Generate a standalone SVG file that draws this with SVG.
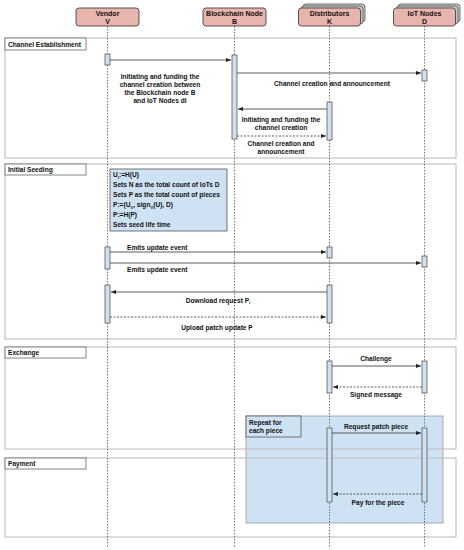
<svg xmlns="http://www.w3.org/2000/svg" width="464" height="550" viewBox="0 0 464 550">
<style>
text{font-family:"Liberation Sans",Arial,sans-serif;font-weight:bold;fill:#111}
.hdr{fill:#e8b4ae;stroke:#444;stroke-width:0.9}
.hdrb{fill:#c8c8c8;stroke:#555;stroke-width:0.8}
.ht{font-size:7px;text-anchor:middle}
.frame{fill:none;stroke:#c4c4c4;stroke-width:1.2}
.flab{fill:#fff;stroke:#666;stroke-width:0.8}
.ft{font-size:6.6px}
.life{stroke:#555;stroke-width:0.8;stroke-dasharray:1.5 1.5}
.act{fill:#cfe2f3;stroke:#444;stroke-width:0.7}
.msg{stroke:#333;stroke-width:0.8;fill:none;marker-end:url(#ah)}
.ret{stroke:#333;stroke-width:0.8;fill:none;stroke-dasharray:2 1.5;marker-end:url(#ah)}
.lt{font-size:6.6px;text-anchor:middle}
.ltl{font-size:6.6px}
.note{fill:#cfe2f3;stroke:#555;stroke-width:0.8}
.nt{font-size:6.6px}
</style>
<defs>
<marker id="ah" viewBox="0 0 6 6" refX="6" refY="3" markerWidth="5" markerHeight="5" orient="auto" markerUnits="userSpaceOnUse">
<path d="M0,0.5 L6,3 L0,5.5 z" fill="#222"/>
</marker>
</defs>
<rect width="464" height="550" fill="#fff"/>

<!-- Repeat fragment background -->
<g id="repeat">
<rect x="246" y="416" width="197" height="107" fill="#cfe2f3" stroke="#999" stroke-width="0.8"/>
<rect x="246" y="416" width="55" height="21" fill="#cfe2f3" stroke="#555" stroke-width="0.8"/>
<text class="ltl" x="249" y="425">Repeat for</text>
<text class="ltl" x="249" y="433">each piece</text>
</g>

<!-- Frames -->
<g id="frame-channel">
<rect class="frame" x="5" y="38" width="451" height="120"/>
<rect class="flab" x="5" y="38" width="81" height="12"/>
<text class="ft" x="8" y="46.5">Channel Establishment</text>
</g>
<g id="frame-seeding">
<rect class="frame" x="5" y="164" width="451" height="175"/>
<rect class="flab" x="5" y="164" width="81" height="11"/>
<text class="ft" x="8" y="172">Initial Seeding</text>
</g>
<g id="frame-exchange">
<rect class="frame" x="5" y="347" width="451" height="102"/>
<rect class="flab" x="5" y="347" width="81" height="11"/>
<text class="ft" x="8" y="355">Exchange</text>
</g>
<g id="frame-payment">
<rect class="frame" x="5" y="458" width="451" height="79"/>
<rect class="flab" x="5" y="458" width="81" height="11"/>
<text class="ft" x="8" y="466">Payment</text>
</g>

<!-- Lifelines -->
<g id="lifelines">
<line class="life" x1="107.5" y1="26" x2="107.5" y2="548"/>
<line class="life" x1="234.5" y1="26" x2="234.5" y2="548"/>
<line class="life" x1="329.5" y1="26" x2="329.5" y2="548"/>
<line class="life" x1="424.5" y1="26" x2="424.5" y2="548"/>
</g>

<!-- Headers -->
<g id="vendor">
<rect class="hdr" x="76" y="8" width="63" height="18" rx="3"/>
<text class="ht" x="107.5" y="16">Vendor</text>
<text class="ht" x="107.5" y="24">V</text>
</g>
<g id="blockchain">
<rect class="hdr" x="203" y="8" width="63" height="18" rx="3"/>
<text class="ht" x="234.5" y="16">Blockchain Node</text>
<text class="ht" x="234.5" y="24">B</text>
</g>
<g id="distributors">
<rect class="hdrb" x="303" y="4" width="62" height="18" rx="3"/>
<rect class="hdrb" x="301" y="6" width="62" height="18" rx="3"/>
<rect class="hdr" x="298.5" y="8" width="62" height="18" rx="3"/>
<text class="ht" x="329.5" y="16">Distributors</text>
<text class="ht" x="329.5" y="24">K</text>
</g>
<g id="iot">
<rect class="hdrb" x="398" y="4" width="62" height="18" rx="3"/>
<rect class="hdrb" x="396" y="6" width="62" height="18" rx="3"/>
<rect class="hdr" x="393.5" y="8" width="62" height="18" rx="3"/>
<text class="ht" x="424.5" y="16">IoT Nodes</text>
<text class="ht" x="424.5" y="24">D</text>
</g>

<!-- Note -->
<g id="note">
<rect class="note" x="110" y="169" width="117" height="62"/>
<text class="nt" x="113" y="177">U<tspan font-size="4.2" dy="1.5">I</tspan><tspan dy="-1.5">:=H(U)</tspan></text>
<text class="nt" x="113" y="187">Sets N as the total count of IoTs D</text>
<text class="nt" x="113" y="197">Sets P as the total count of pieces</text>
<text class="nt" x="113" y="207">P:=(U<tspan font-size="4.2" dy="1.5">V</tspan><tspan dy="-1.5">, sign</tspan><tspan font-size="4.2" dy="1.5">V</tspan><tspan dy="-1.5">(U), D)</tspan></text>
<text class="nt" x="113" y="217">P:=H(P)</text>
<text class="nt" x="113" y="227">Sets seed life time</text>
</g>

<!-- Activations -->
<g id="activations">
<rect class="act" x="105" y="54" width="5" height="11"/>
<rect class="act" x="232" y="55" width="5" height="84"/>
<rect class="act" x="422" y="70" width="5" height="11"/>
<rect class="act" x="327" y="102" width="5" height="38"/>
<rect class="act" x="105" y="247" width="5" height="22"/>
<rect class="act" x="327" y="247" width="5" height="11"/>
<rect class="act" x="422" y="256" width="5" height="11"/>
<rect class="act" x="105" y="285" width="5" height="38"/>
<rect class="act" x="327" y="285" width="5" height="38"/>
<rect class="act" x="327" y="361" width="5" height="32"/>
<rect class="act" x="422" y="361" width="5" height="32"/>
<rect class="act" x="327" y="428" width="5" height="74"/>
<rect class="act" x="422" y="428" width="5" height="74"/>
</g>

<!-- Connectors -->
<g id="connectors">
<line class="msg" x1="110" y1="60" x2="231" y2="60"/>
<line class="msg" x1="237" y1="73" x2="421" y2="73"/>
<line class="msg" x1="327" y1="109" x2="238" y2="109"/>
<line class="ret" x1="237" y1="136" x2="326" y2="136"/>
<line class="msg" x1="110" y1="252" x2="326" y2="252"/>
<line class="msg" x1="110" y1="263" x2="421" y2="263"/>
<line class="msg" x1="327" y1="292" x2="111" y2="292"/>
<line class="ret" x1="110" y1="317" x2="326" y2="317"/>
<line class="msg" x1="332" y1="366" x2="421" y2="366"/>
<line class="ret" x1="422" y1="387" x2="333" y2="387"/>
<line class="msg" x1="332" y1="433" x2="421" y2="433"/>
<line class="ret" x1="422" y1="494" x2="333" y2="494"/>
</g>

<!-- Labels -->
<g id="labels">
<text class="lt" x="160" y="78.5">Initiating and funding the</text>
<text class="lt" x="160" y="86.5">channel creation between</text>
<text class="lt" x="160" y="94.5">the Blockchain node B</text>
<text class="lt" x="160" y="102.5">and IoT Nodes di</text>
<text class="lt" x="332" y="85.5">Channel creation and announcement</text>
<text class="lt" x="281" y="121.5">Initiating and funding the</text>
<text class="lt" x="281" y="129.5">channel creation</text>
<text class="lt" x="281" y="145.5">Channel creation and</text>
<text class="lt" x="281" y="153.5">announcement</text>
<text class="ltl" x="127" y="249.5">Emits update event</text>
<text class="ltl" x="127" y="271.5">Emits update event</text>
<text class="lt" x="218" y="302.5">Download request P<tspan font-size="4.2" dy="1.5">i</tspan></text>
<text class="lt" x="217" y="329.5">Upload patch update P</text>
<text class="lt" x="376" y="360.5">Challenge</text>
<text class="lt" x="376" y="396.5">Signed message</text>
<text class="lt" x="376" y="428.5">Request patch piece</text>
<text class="lt" x="378" y="504.5">Pay for the piece</text>
</g>
</svg>
